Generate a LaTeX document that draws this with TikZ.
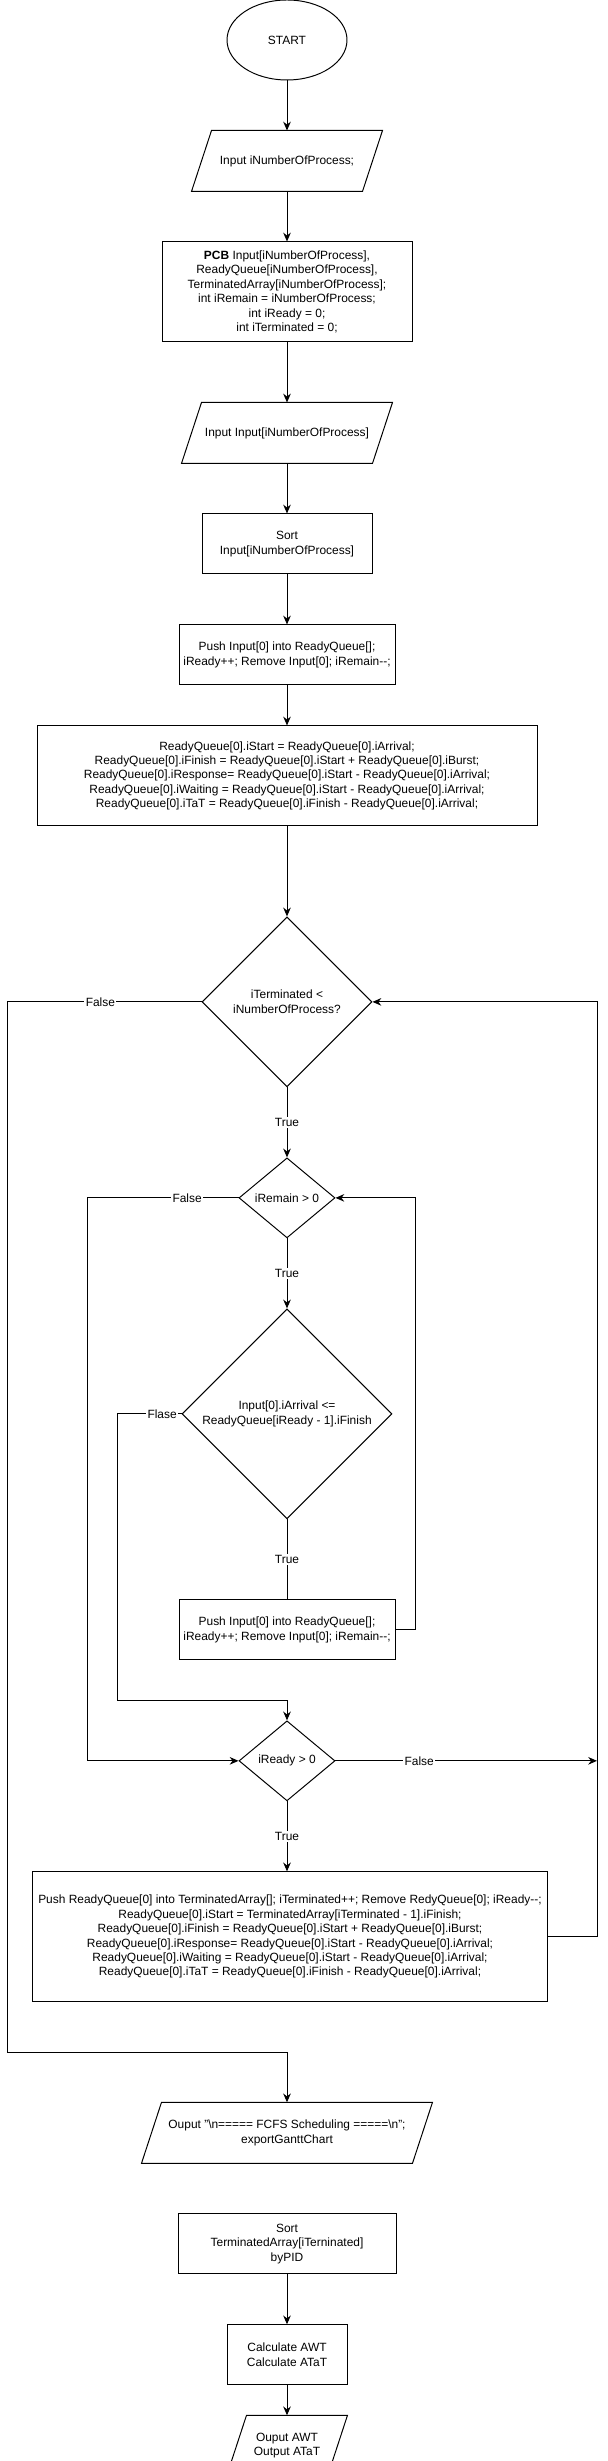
\documentclass[tikz,border=0pt]{standalone}
\usepackage{fontspec}
\setmainfont{Liberation Sans}
\usetikzlibrary{arrows.meta, positioning, shapes.geometric, calc}

\begin{document}
\begin{tikzpicture}[
    font=\fontsize{8.5}{10.25}\selectfont,
    line width=0.7pt,
    box/.style={draw, align=center, minimum height=1.5cm, inner sep=2pt},
    io/.style={align=center, minimum height=1.5cm, inner sep=1pt},
    decision/.style={draw, diamond, align=center, inner sep=0pt},
    terminal/.style={draw, ellipse, minimum width=3cm, minimum height=2cm},
    arrow/.style={-{Stealth[length=2.2mm, width=1.9mm]}},
    lbl/.style={fill=white, inner sep=1pt}
]
\useasboundingbox (-7.175,1.0) rectangle (8.0,-60.525);

% Start and inputs
\node[terminal] (start) {START};
\node[io, minimum width=4.25cm, below=1.25cm of start] (inNum) {Input iNumberOfProcess;};
\node[box, minimum width=6.25cm, minimum height=2.5cm, below=1.25cm of inNum] (pcb) {\textbf{PCB} Input[iNumberOfProcess],\\ReadyQueue[iNumberOfProcess],\\TerminatedArray[iNumberOfProcess];\\int iRemain = iNumberOfProcess;\\int iReady = 0;\\int iTerminated = 0;};
\node[io, minimum width=4.75cm, below=1.5cm of pcb] (inArr) {Input Input[iNumberOfProcess]};
\node[box, minimum width=4.25cm, below=1.25cm of inArr] (sortIn) {Sort\\Input[iNumberOfProcess]};

% First process
\node[box, minimum width=5.4cm, below=1.25cm of sortIn] (pushFirst) {Push Input[0] into ReadyQueue[];\\iReady++; Remove Input[0]; iRemain-{}-;};
\node[box, minimum width=12.5cm, minimum height=2.5cm, below=1cm of pushFirst] (calcFirst) {ReadyQueue[0].iStart = ReadyQueue[0].iArrival;\\ReadyQueue[0].iFinish = ReadyQueue[0].iStart + ReadyQueue[0].iBurst;\\ReadyQueue[0].iResponse= ReadyQueue[0].iStart - ReadyQueue[0].iArrival;\\ReadyQueue[0].iWaiting = ReadyQueue[0].iStart - ReadyQueue[0].iArrival;\\ReadyQueue[0].iTaT = ReadyQueue[0].iFinish - ReadyQueue[0].iArrival;};

% Main loop
\node[decision, minimum width=4.25cm, minimum height=4.25cm, below=2.25cm of calcFirst] (checkTerm) {iTerminated <\\iNumberOfProcess?};
\node[decision, minimum width=2.4cm, minimum height=2cm, below=1.75cm of checkTerm] (checkRemain) {iRemain > 0};
\node[decision, minimum width=5.25cm, minimum height=5.25cm, below=1.75cm of checkRemain] (checkArrival) {Input[0].iArrival <=\\ReadyQueue[iReady - 1].iFinish};
\node[box, minimum width=5.4cm, below=2cm of checkArrival] (pushNext) {Push Input[0] into ReadyQueue[];\\iReady++; Remove Input[0]; iRemain-{}-;};
\node[decision, minimum width=2.4cm, minimum height=2cm, below=1.5cm of pushNext] (checkReady) {iReady > 0};
\node[box, minimum width=12.875cm, minimum height=3.25cm, below=1.75cm of checkReady, xshift=0.075cm] (terminate) {Push ReadyQueue[0] into TerminatedArray[]; iTerminated++; Remove RedyQueue[0]; iReady-{}-;\\ReadyQueue[0].iStart = TerminatedArray[iTerminated - 1].iFinish;\\ReadyQueue[0].iFinish = ReadyQueue[0].iStart + ReadyQueue[0].iBurst;\\ReadyQueue[0].iResponse= ReadyQueue[0].iStart - ReadyQueue[0].iArrival;\\ReadyQueue[0].iWaiting = ReadyQueue[0].iStart - ReadyQueue[0].iArrival;\\ReadyQueue[0].iTaT = ReadyQueue[0].iFinish - ReadyQueue[0].iArrival;};

% Output
\node[io, minimum width=6.75cm, below=2.5cm of terminate, xshift=-0.075cm] (outChart) {Ouput "\textbackslash n===== FCFS Scheduling =====\textbackslash n";\\exportGanttChart};
\node[box, minimum width=5.45cm, below=1.25cm of outChart] (sortPid) {Sort\\TerminatedArray[iTerninated]\\byPID};
\node[box, minimum width=3cm, below=1.25cm of sortPid] (calcAvg) {Calculate AWT\\Calculate ATaT};
\node[io, minimum width=2.5cm, below=0.75cm of calcAvg] (outAvg) {Ouput AWT\\Output ATaT};

% Slanted outlines of the input/output nodes
\foreach \n in {inNum, inArr, outChart, outAvg}
    \draw ([xshift=0.25cm]\n.north west) -- ([xshift=0.25cm]\n.north east) -- ([xshift=-0.25cm]\n.south east) -- ([xshift=-0.25cm]\n.south west) -- cycle;

% Loop lines
\coordinate (leftx) at (-7.0,0);
\coordinate (falsex) at (-4.99,0);
\coordinate (flasex) at (-4.25,0);
\coordinate (backx) at (3.2,0);
\coordinate (rightx) at (7.75,0);

% Arrows
\draw[arrow] (start) -- (inNum);
\draw[arrow] (inNum) -- (pcb);
\draw[arrow] (pcb) -- (inArr);
\draw[arrow] (inArr) -- (sortIn);
\draw[arrow] (sortIn) -- (pushFirst);
\draw[arrow] (pushFirst) -- (calcFirst);
\draw[arrow] (calcFirst) -- (checkTerm);
\draw[arrow] (checkTerm) -- node[lbl]{True} (checkRemain);
\draw[arrow] (checkRemain) -- node[lbl]{True} (checkArrival);
\draw (checkArrival) -- node[lbl]{True} (pushNext);
\draw[arrow] (checkReady.south) -- node[lbl]{True} (checkReady.south |- terminate.north);
\draw[arrow] (sortPid) -- (calcAvg);
\draw[arrow] (calcAvg) -- (outAvg);

% False branches
\draw[arrow] (checkTerm.west) -- node[lbl, pos=0.52]{False} (checkTerm.west -| leftx) |- ($(outChart.north)+(0,1.25)$) -- (outChart.north);
\draw[arrow] (checkRemain.west) -- node[lbl, pos=0.34]{False} (checkRemain.west -| falsex) |- (checkReady.west);
\draw[arrow] (checkArrival.west) -- node[lbl, pos=0.3]{Flase} (checkArrival.west -| flasex) |- ($(checkReady.north)+(0,0.5)$) -- (checkReady.north);
\draw[arrow] (checkReady.east) -- node[lbl, pos=0.32]{False} (checkReady.east -| rightx);

% Back edges
\draw[arrow] (pushNext.east) -- (pushNext.east -| backx) |- (checkRemain.east);
\draw[arrow] (terminate.east) -- (terminate.east -| rightx) |- (checkTerm.east);

\end{tikzpicture}
\end{document}
